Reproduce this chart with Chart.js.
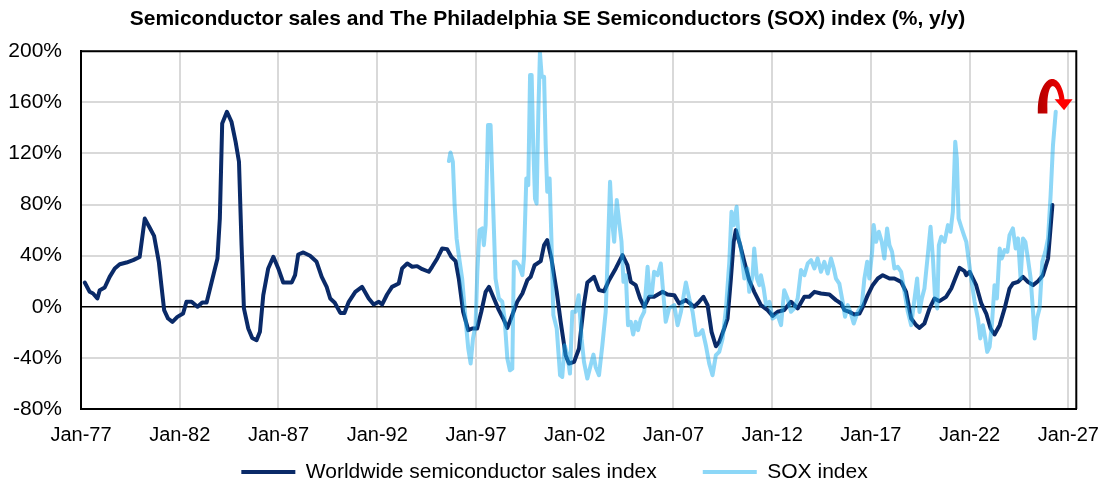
<!DOCTYPE html>
<html>
<head>
<meta charset="utf-8">
<script src="https://cdn.jsdelivr.net/npm/chart.js@4.4.1/dist/chart.umd.min.js"></script>
<style>
html,body{margin:0;padding:0;background:#ffffff;}
canvas{display:block;}
</style>
</head>
<body>
<canvas id="c" width="1099" height="486"></canvas>
<script>
// ---------------- data ----------------
const chartTitle = "Semiconductor sales and The Philadelphia SE Semiconductors (SOX) index (%, y/y)";
const seriesNames = ["Worldwide semiconductor sales index", "SOX index"];
const xTickYears = [1977, 1982, 1987, 1992, 1997, 2002, 2007, 2012, 2017, 2022, 2027];
const yTickValues = [-80, -40, 0, 40, 80, 120, 160, 200];

// Worldwide semiconductor sales, % y/y (date as decimal year)
const semiDates = [
1977.19,1977.44,1977.61,1977.83,1977.95,1978.2,1978.45,1978.71,1978.96,1979.3,1979.64,1979.97,
1980.23,1980.48,1980.7,1980.94,1981.07,1981.21,1981.41,1981.63,1981.88,1982.17,1982.34,1982.6,1982.9,
1983.14,1983.36,1983.61,1983.91,1984.03,1984.15,1984.39,1984.62,1984.83,1985.0,1985.13,1985.25,1985.47,
1985.67,1985.89,1986.06,1986.23,1986.48,1986.74,1986.99,1987.24,1987.67,1987.84,1988.0,1988.26,1988.6,
1988.93,1989.19,1989.44,1989.62,1989.85,1990.13,1990.34,1990.56,1990.89,1991.23,1991.57,1991.82,1992.08,
1992.25,1992.5,1992.75,1993.09,1993.26,1993.52,1993.77,1994.02,1994.28,1994.61,1994.78,1995.04,1995.29,
1995.54,1995.75,1995.97,1996.13,1996.35,1996.61,1996.81,1997.06,1997.27,1997.49,1997.66,1997.91,1998.16,
1998.38,1998.59,1998.84,1999.09,1999.35,1999.6,1999.77,1999.97,2000.28,2000.45,2000.61,2000.82,2001.09,
2001.29,2001.54,2001.71,2001.97,2002.22,2002.35,2002.47,2002.64,2002.98,2003.23,2003.49,2003.74,2004.08,
2004.42,2004.67,2004.84,2005.09,2005.31,2005.52,2005.77,2006.02,2006.45,2006.7,2007.04,2007.29,2007.63,
2008.05,2008.3,2008.52,2008.73,2008.93,2009.15,2009.32,2009.57,2009.74,2009.91,2010.05,2010.16,2010.38,
2010.59,2010.84,2011.09,2011.43,2011.77,2012.02,2012.28,2012.61,2012.95,2013.29,2013.63,2013.88,2014.14,
2014.47,2014.9,2015.23,2015.49,2015.66,2015.91,2016.16,2016.42,2016.59,2016.84,2017.09,2017.35,2017.6,
2017.94,2018.19,2018.53,2018.78,2019.04,2019.29,2019.46,2019.71,2019.97,2020.22,2020.47,2020.81,2021.07,
2021.27,2021.49,2021.74,2021.83,2022.0,2022.33,2022.59,2022.84,2023.06,2023.26,2023.52,2023.77,2024.02,
2024.19,2024.45,2024.7,2024.95,2025.21,2025.46,2025.71,2025.97,2026.19
];
const semiValues = [
19,11.7,10.4,6.5,13,15.1,23.4,30,33.3,34.6,36.5,39,
69,61.8,55.5,35.2,16.9,-2.6,-9.2,-11.8,-7.9,-5.3,3.9,3.9,0,
3.3,3.3,19,37.8,69,143.5,152.6,144.8,129.1,113.5,48.2,-1.3,-17,
-24.4,-26.2,-19.6,9.1,30,39.1,30,19,19,24.7,40.9,42.5,39.9,
35.2,23.4,15.6,6.5,3.2,-4.8,-4.8,3.9,11.7,15.6,6.5,1.8,3.9,
1.8,9.6,15.6,18.2,30,33.9,31.3,31.8,29.4,27.4,31.3,37.8,45.6,
45.1,39.1,35.7,22.1,-3.9,-18.3,-17,-17,-3.9,11.7,15.6,6.5,-2.6,
-9.2,-16.5,-6.5,3.9,10.4,20.8,23.4,32.5,35.7,48.2,52.1,37.8,11.7,
-11.8,-37.9,-44.4,-43.1,-32.7,-14,2,19,23.4,13,12.2,20.8,30,
40.4,32.5,19.5,16.9,6.5,0,7.8,7.8,11.7,9.6,9.1,2.6,5.2,
0,3.9,7.8,1.3,-19.6,-30.9,-27.5,-17,-9.2,22.1,50.8,60,48.2,
35.2,20.8,11.7,1.3,-2.6,-7.1,-3.9,-2.6,3.9,-1.3,7.8,7.8,11.7,
10.4,9.6,5.2,2.6,-2.6,-4,-6,-5.3,0,9.1,16.9,22.1,24.7,
22.1,22.1,19.5,11.7,-9.2,-14.4,-16.5,-13.1,-1.3,6.5,4.4,7.8,14.3,
22.1,30.5,27.9,24.7,27.4,16.9,2.6,-5.3,-17,-21.7,-14.4,-1.3,14.3,
18.2,19.5,23.4,19.5,16.9,20,24.7,37.8,79.6
];

// SOX index, % y/y
const soxDates = [
1995.63,1995.71,1995.83,1995.92,1996.02,1996.13,1996.3,1996.47,1996.61,1996.73,1996.85,1996.98,
1997.07,1997.18,1997.32,1997.4,1997.49,1997.61,1997.74,1997.88,1997.99,1998.16,1998.33,1998.45,
1998.59,1998.72,1998.84,1998.92,1999.03,1999.18,1999.35,1999.43,1999.55,1999.65,1999.74,1999.82,
1999.9,1999.99,2000.07,2000.16,2000.24,2000.33,2000.45,2000.53,2000.61,2000.73,2000.82,2000.92,
2001.09,2001.26,2001.37,2001.49,2001.63,2001.76,2001.88,2002.05,2002.2,2002.35,2002.47,2002.64,
2002.81,2002.95,2003.06,2003.23,2003.4,2003.57,2003.69,2003.79,2003.88,2004.0,2004.13,2004.25,
2004.37,2004.47,2004.59,2004.7,2004.84,2004.96,2005.09,2005.21,2005.35,2005.52,2005.69,2005.8,
2005.9,2006.02,2006.19,2006.36,2006.45,2006.61,2006.78,2007.04,2007.21,2007.38,2007.63,2007.8,
2007.97,2008.14,2008.3,2008.47,2008.64,2008.81,2008.98,2009.15,2009.32,2009.49,2009.66,2009.83,
2009.94,2010.05,2010.2,2010.3,2010.42,2010.59,2010.75,2010.84,2011.01,2011.09,2011.23,2011.35,
2011.43,2011.57,2011.69,2011.86,2012.02,2012.28,2012.45,2012.61,2012.78,2012.95,2013.12,2013.29,
2013.46,2013.63,2013.8,2013.97,2014.14,2014.3,2014.47,2014.64,2014.81,2014.98,2015.12,2015.23,
2015.4,2015.57,2015.69,2015.83,2015.96,2016.13,2016.33,2016.54,2016.67,2016.81,2016.92,2017.06,
2017.14,2017.26,2017.4,2017.55,2017.68,2017.82,2017.94,2018.07,2018.19,2018.36,2018.53,2018.7,
2018.87,2019.04,2019.21,2019.34,2019.46,2019.58,2019.71,2019.88,2020.02,2020.14,2020.25,2020.36,
2020.44,2020.56,2020.73,2020.9,2021.03,2021.15,2021.27,2021.35,2021.44,2021.57,2021.71,2021.83,
2021.94,2022.08,2022.25,2022.42,2022.54,2022.67,2022.79,2022.89,2023.01,2023.13,2023.26,2023.38,
2023.52,2023.63,2023.77,2023.91,2024.02,2024.19,2024.33,2024.45,2024.58,2024.7,2024.82,2024.95,
2025.09,2025.21,2025.29,2025.41,2025.54,2025.68,2025.83,2025.97,2026.1,2026.22,2026.36
];
const soxValues = [
114,120.8,113.5,79.6,53.5,40.4,22.1,-9.2,-32.7,-44.4,-24.8,-14.4,
27.4,60,61.3,48.2,63.9,142.2,142.2,74.3,22.1,6.5,3.9,-9.2,
-40.5,-49.7,-48.4,35.2,35.2,32.5,24.7,37.8,100.4,95.2,181.3,181.3,
126.5,84.7,80.8,152.6,199,180,180,126.5,90,100.4,53.5,-6.5,
-17,-53.6,-54.9,-30.1,-37.9,-52.3,-3.9,-3.9,9,-25,-43.1,-56.2,
-45.7,-37.4,-47.1,-53.6,-30.1,-3.9,48.2,97.8,69.1,50.8,83.5,66.5,
50.8,19.5,24.7,-14.4,-11.8,-21.7,-11.8,-18.3,-9.2,-3.9,31.3,9.1,
9.1,27.4,24.7,33.9,16.9,-11.8,-1.3,1.3,-14.4,-3.9,19,6.5,
-3.9,-22.2,-21.7,-18.3,-30.1,-44.4,-53.6,-37.9,-35.3,-24.8,-1.3,35.2,
74.3,63.9,78.2,53.5,45.6,22.1,30,11.7,24.7,45.6,22.1,16.9,
24.7,14.3,1.3,3.9,-9.2,-6.5,-14.4,13,6.5,-3.9,-1.3,6.5,
28.7,24.7,33.9,36.5,30,37.8,27.4,35.2,26,37.8,30,22.1,
18.2,3.9,-7.8,1.3,-4,-13.1,-4,1.3,22.1,35.2,22.1,43,
63.9,50.8,58.7,50.8,37.8,61.3,48.2,43,30,31.3,27.4,11.7,
-4,-14.4,6.5,22.1,-4,6.5,14.3,40.4,62.6,37.8,6.5,-1.3,
48.2,54.8,50.8,63.9,58.7,74.3,129.1,116.1,69.1,62.6,56.1,50.8,
37.8,22.1,3.9,-9.2,-24.8,-14.4,-24.8,-35.3,-31.4,-13.1,16.9,6.5,
45.6,37.8,44.3,43,56.1,61.3,45.6,53.5,22.1,53.5,50.8,37.8,
22.1,-4,-24.8,-9.2,-1.3,35.2,43,53.5,87.4,126.5,152.6
];

// annotation: curved red arrow anchored near the last SOX reading (data coords)
const arrowAnchor = { x: 2026.2, y: 152 };

// ---------------- styles ----------------
const darkColor = '#0A2A68';
const lightColor = 'rgba(30,175,240,0.5)';
const legendColors = ['#0A2A68', '#8CD7F7'];
const FONT = 'Arial, "Liberation Sans", sans-serif';
const LEGEND_FONT = 21, LEGEND_PAD = 46, LEGEND_OFFSET = 63, LEGEND_SHIFT_X = 7;

const framePlugin = {
  id: 'frame',
  afterLayout(chart) {
    // place the legend row at a fixed distance under the plot area
    const lg = chart.legend;
    if (lg) {
      const want = chart.chartArea.bottom + LEGEND_OFFSET;
      const now = lg.top + LEGEND_PAD + LEGEND_FONT / 2;
      const dy = want - now;
      lg.top += dy;
      lg.bottom += dy;
      lg.left += LEGEND_SHIFT_X;
      lg.right += LEGEND_SHIFT_X;
    }
  },
  afterDatasetsDraw(chart) {
    const {ctx, chartArea: a} = chart;
    ctx.save();
    ctx.strokeStyle = '#000';
    ctx.lineWidth = 2;
    ctx.beginPath();
    ctx.moveTo(a.left, a.top);
    ctx.lineTo(a.right, a.top);
    ctx.lineTo(a.right, a.bottom);
    ctx.stroke();
    ctx.restore();
  }
};

const arrowPlugin = {
  id: 'arrow',
  afterDatasetsDraw(chart) {
    const {ctx} = chart;
    const xs = chart.scales.x, ys = chart.scales.y;
    const bx = xs.getPixelForValue(arrowAnchor.x);
    const by = ys.getPixelForValue(arrowAnchor.y);
    const cx = bx, cy = by - 4, rx = 10, ry = 26;
    ctx.save();
    const g = ctx.createLinearGradient(cx - rx - 5, 0, cx + rx + 5, 0);
    g.addColorStop(0, '#B00000');
    g.addColorStop(1, '#FF0000');
    ctx.fillStyle = g;
    ctx.beginPath();
    const n = 40, a0 = Math.PI, a1 = 2 * Math.PI - 0.32;
    const outer = [], inner = [];
    for (let i = 0; i <= n; i++) {
      const t = i / n;
      const ang = a0 + (a1 - a0) * t;
      const w = 4.8 - 2.2 * t;
      outer.push([cx + (rx + w) * Math.cos(ang), cy + (ry + w) * Math.sin(ang)]);
      inner.push([cx + (rx - w) * Math.cos(ang), cy + (ry - w) * Math.sin(ang)]);
    }
    ctx.moveTo(outer[0][0], outer[0][1] + 5);
    outer.forEach(p => ctx.lineTo(p[0], p[1]));
    for (let i = inner.length - 1; i >= 0; i--) ctx.lineTo(inner[i][0], inner[i][1]);
    ctx.lineTo(inner[0][0], inner[0][1] + 5);
    ctx.closePath();
    ctx.fill();
    const hx = outer[n][0] * 0.5 + inner[n][0] * 0.5 + 1;
    const hy = outer[n][1] * 0.5 + inner[n][1] * 0.5;
    ctx.fillStyle = '#FF0000';
    ctx.beginPath();
    ctx.moveTo(hx - 8.5, hy - 1);
    ctx.lineTo(hx + 9.5, hy - 1);
    ctx.lineTo(hx + 1, hy + 10);
    ctx.closePath();
    ctx.fill();
    ctx.restore();
  }
};

const toPts = (xs, ys) => xs.map((d, i) => ({x: d, y: ys[i]}));

new Chart(document.getElementById('c'), {
  type: 'line',
  data: {
    datasets: [
      {
        label: seriesNames[0],
        data: toPts(semiDates, semiValues),
        borderColor: darkColor,
        backgroundColor: darkColor,
        borderWidth: 4,
        pointRadius: 0,
        tension: 0,
        borderJoinStyle: 'round',
        borderCapStyle: 'round',
        order: 1
      },
      {
        label: seriesNames[1],
        data: toPts(soxDates, soxValues),
        borderColor: lightColor,
        backgroundColor: lightColor,
        borderWidth: 4,
        pointRadius: 0,
        tension: 0,
        borderJoinStyle: 'round',
        borderCapStyle: 'round',
        order: 0
      }
    ]
  },
  options: {
    responsive: false,
    animation: false,
    devicePixelRatio: 1,
    layout: { padding: { left: 0, right: 4, top: 0, bottom: -39 } },
    plugins: {
      tooltip: { enabled: false },
      title: {
        display: true,
        text: chartTitle,
        color: '#000',
        font: { family: FONT, size: 21, weight: 'bold' },
        padding: { top: 7, bottom: 19 }
      },
      legend: {
        position: 'bottom',
        labels: {
          color: '#000',
          font: { family: FONT, size: LEGEND_FONT },
          boxWidth: 54,
          boxHeight: 4,
          padding: LEGEND_PAD,
          sort: (a, b) => a.datasetIndex - b.datasetIndex,
          generateLabels(chart) {
            const items = Chart.defaults.plugins.legend.labels.generateLabels(chart);
            items.forEach(it => {
              it.fillStyle = legendColors[it.datasetIndex];
              it.strokeStyle = legendColors[it.datasetIndex];
              it.lineWidth = 0;
            });
            return items;
          }
        }
      }
    },
    scales: {
      x: {
        type: 'linear',
        min: 1977,
        max: 2027.4,
        afterBuildTicks(scale) { scale.ticks = xTickYears.map(v => ({ value: v })); },
        afterFit(scale) { scale.height = 39; },
        ticks: {
          autoSkip: false,
          maxRotation: 0,
          color: '#000',
          padding: 0,
          font: { family: FONT, size: 20 },
          callback: v => 'Jan-' + String(v % 100).padStart(2, '0')
        },
        grid: { color: '#D9D9D9', lineWidth: 2, drawTicks: true, tickLength: 14, tickColor: 'rgba(0,0,0,0)' },
        border: { color: '#000', width: 2 }
      },
      y: {
        min: -80,
        max: 200,
        afterBuildTicks(scale) { scale.ticks = yTickValues.map(v => ({ value: v })); },
        afterFit(scale) { scale.width = 81; },
        ticks: {
          color: '#000',
          padding: 19,
          font: { family: FONT, size: 21 },
          callback: v => v + '%'
        },
        grid: {
          drawTicks: false,
          color: c => (c.tick && c.tick.value === 0) ? '#000' : '#D9D9D9',
          lineWidth: c => (c.tick && c.tick.value === 0) ? 1.5 : 2
        },
        border: { color: '#000', width: 2 }
      }
    }
  },
  plugins: [framePlugin, arrowPlugin]
});
</script>
</body>
</html>
